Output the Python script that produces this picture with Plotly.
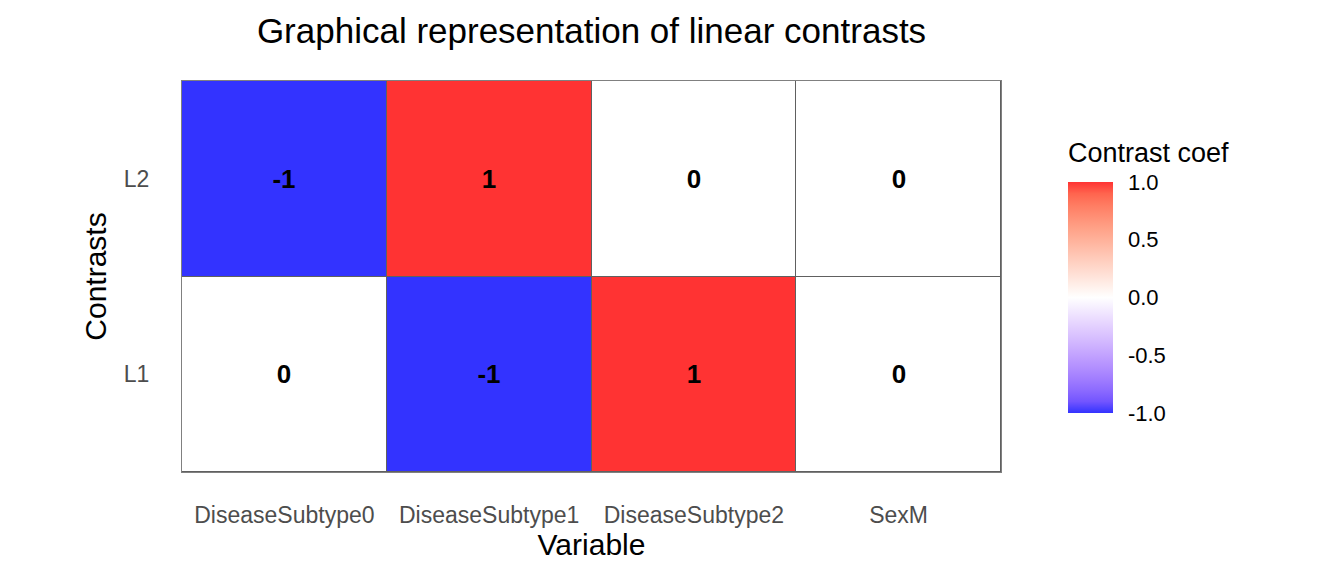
import numpy as np
import plotly.graph_objects as go

variables = ["DiseaseSubtype0", "DiseaseSubtype1", "DiseaseSubtype2", "SexM"]
contrasts = ["L1", "L2"]
coef_L1 = [0, -1, 1, 0]
coef_L2 = [-1, 1, 0, 0]
z = [coef_L1, coef_L2]
text = [[f"<b>{v}</b>" for v in row] for row in z]

# --- colour scale: gradient2(low=blue, mid=white, high=red) in Lab, alpha 0.8 over white
def srgb_to_lin(c):
    c = np.asarray(c, float) / 255
    return np.where(c <= 0.04045, c / 12.92, ((c + 0.055) / 1.055) ** 2.4)

def lin_to_srgb(c):
    c = np.clip(c, 0, 1)
    return np.where(c <= 0.0031308, 12.92 * c, 1.055 * c ** (1 / 2.4) - 0.055) * 255

M = np.array([[0.4124, 0.3576, 0.1805], [0.2126, 0.7152, 0.0722], [0.0193, 0.1192, 0.9505]])
Minv = np.linalg.inv(M)
WP = M @ np.ones(3)

def f(t):
    d = 6 / 29
    return np.where(t > d ** 3, np.cbrt(t), t / (3 * d * d) + 4 / 29)

def finv(t):
    d = 6 / 29
    return np.where(t > d, t ** 3, 3 * d * d * (t - 4 / 29))

def rgb_to_lab(rgb):
    xyz = M @ srgb_to_lin(rgb) / WP
    fx, fy, fz = f(xyz)
    return np.array([116 * fy - 16, 500 * (fx - fy), 200 * (fy - fz)])

def lab_to_rgb(lab):
    L, a, b = lab
    fy = (L + 16) / 116
    xyz = np.array([finv(fy + a / 500), finv(fy), finv(fy - b / 200)]) * WP
    return lin_to_srgb(Minv @ xyz)

low, mid, high = rgb_to_lab([0, 0, 255]), rgb_to_lab([255, 255, 255]), rgb_to_lab([255, 0, 0])
alpha = 0.8
scale = []
for t in np.linspace(0, 1, 21):
    if t <= 0.5:
        lab = low + (mid - low) * (t / 0.5)
    else:
        lab = mid + (high - mid) * ((t - 0.5) / 0.5)
    rgb = lab_to_rgb(lab) * alpha + 255 * (1 - alpha)
    r, g, b = [int(round(v)) for v in rgb]
    scale.append([float(t), f"rgb({r},{g},{b})"])

FONT = "Liberation Sans, Arial, Helvetica, sans-serif"

fig = go.Figure(
    go.Heatmap(
        z=z, x=variables, y=contrasts,
        zmin=-1, zmax=1, colorscale=scale,
        text=text, texttemplate="%{text}",
        textfont=dict(size=26, color="black", family=FONT),
        xgap=1, ygap=1,
        colorbar=dict(
            x=1.082, xanchor="left", xpad=0,
            y=(472 - 413) / 391, yanchor="bottom", ypad=0,
            len=231, lenmode="pixels",
            thickness=45, thicknessmode="pixels",
            outlinewidth=0,
            tickvals=[-1, -0.5, 0, 0.5, 1],
            ticktext=["-1.0", "-0.5", "0.0", "0.5", "1.0"],
            ticks="outside", ticklen=11, tickcolor="white", tickwidth=1,
            tickfont=dict(size=22, color="black", family=FONT),
        ),
        hoverongaps=False,
    )
)

fig.update_layout(
    width=1344, height=576,
    margin=dict(l=182, r=343, t=81, b=104),
    paper_bgcolor="white",
    plot_bgcolor="#606060",
    font=dict(family=FONT),
    title=dict(
        text="Graphical representation of linear contrasts",
        x=0.5, xref="paper", xanchor="center",
        y=1 - 31 / 576, yref="container", yanchor="middle",
        font=dict(size=35, color="black", family=FONT),
    ),
    annotations=[
        dict(
            text="Contrast coef", showarrow=False,
            xref="paper", yref="paper",
            x=(1066 - 182) / 819, xanchor="left",
            y=(472 - 153) / 391, yanchor="middle",
            font=dict(size=27, color="black", family=FONT),
        )
    ],
)
fig.update_xaxes(
    showgrid=False, zeroline=False, ticks="",
    showline=True, linecolor="#808080", linewidth=1, mirror=True,
    tickfont=dict(size=23, color="#4d4d4d", family=FONT),
    ticklabelstandoff=22,
    title=dict(text="Variable", font=dict(size=30, color="black", family=FONT), standoff=4),
)
fig.update_yaxes(
    showgrid=False, zeroline=False, ticks="",
    showline=True, linecolor="#808080", linewidth=1, mirror=True,
    tickfont=dict(size=23, color="#4d4d4d", family=FONT),
    ticklabelstandoff=27,
    title=dict(text="Contrasts", font=dict(size=30, color="black", family=FONT), standoff=8),
)

fig.write_html("out.html")
